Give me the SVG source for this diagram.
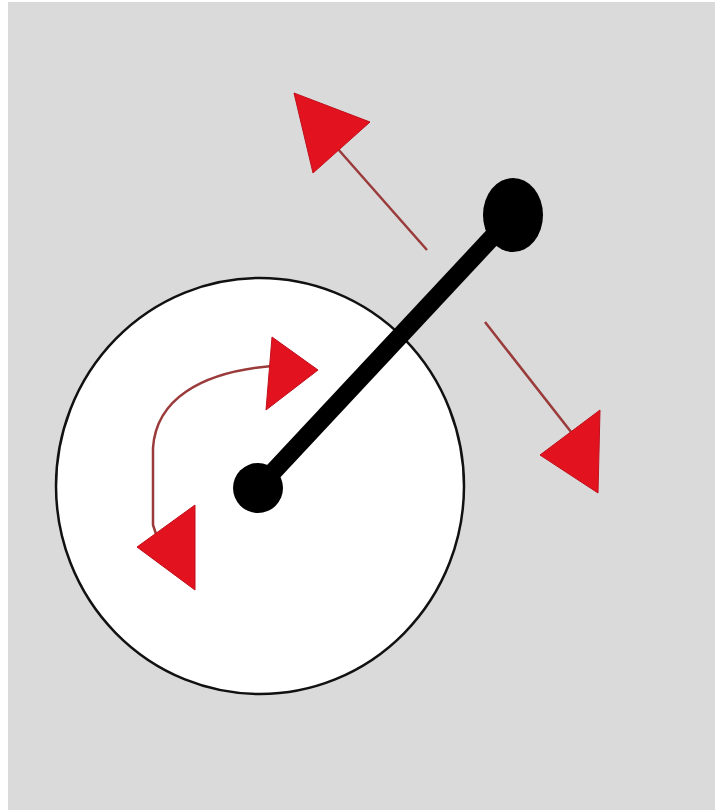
<svg xmlns="http://www.w3.org/2000/svg" width="715" height="810" viewBox="0 0 715 810">
<style>
.shaft{stroke:#9a3a3a;stroke-width:2.5;fill:none}
.head{fill:#e3121f;stroke:#c0101c;stroke-width:1}
</style>
<rect x="0" y="0" width="715" height="810" fill="#ffffff"/>
<rect x="8" y="2" width="707" height="808" fill="#dadada"/>
<g id="disc">
<ellipse cx="260" cy="486" rx="204" ry="208" fill="#ffffff" stroke="#111111" stroke-width="2.5"/>
</g>
<g id="arm">
<line x1="258" y1="488" x2="513" y2="215" stroke="#000000" stroke-width="18"/>
<circle cx="258" cy="488" r="25" fill="#000000"/>
<ellipse cx="513" cy="215" rx="30" ry="37" fill="#000000"/>
</g>
<g id="connectors">
<line class="shaft" x1="427" y1="250" x2="330" y2="140"/>
<polygon class="head" points="294,93 370,122 313,173"/>
<line class="shaft" x1="485" y1="322" x2="575" y2="437"/>
<polygon class="head" points="600,410 540,455 598,493"/>
<path class="shaft" d="M 272 366 C 200 372 156 400 153 448 L 153 525 L 158 540"/>
<polygon class="head" points="272,337 318,370 266,410"/>
<polygon class="head" points="195,505 137,547 195,590"/>
</g>
</svg>
